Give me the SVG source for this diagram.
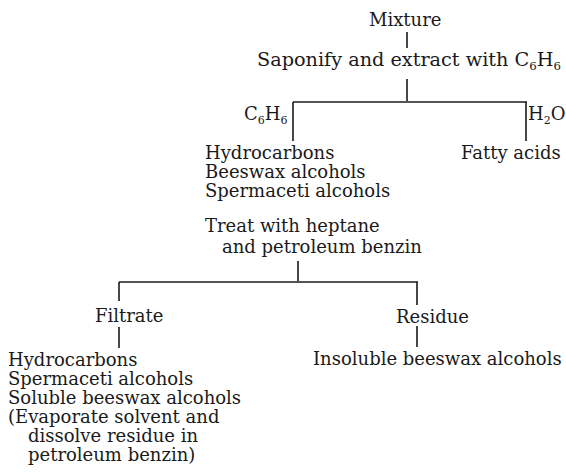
<svg xmlns="http://www.w3.org/2000/svg" width="566" height="476" viewBox="0 0 566 476">
<style>
text{font-family:"DejaVu Serif","Liberation Serif",serif;font-size:18px;fill:#1a1a1a}
.sub{font-size:11px}
.c line{stroke:#1a1a1a;stroke-width:1.6}
</style>
<rect width="566" height="476" fill="#fff"/>
<g class="c" id="connectors">
<line x1="407" y1="32" x2="407" y2="48"/>
<line x1="407" y1="79" x2="407" y2="101"/>
<line x1="293" y1="102" x2="527" y2="102"/>
<line x1="293" y1="102" x2="293" y2="141"/>
<line x1="526" y1="102" x2="526" y2="141"/>
<line x1="298" y1="261" x2="298" y2="281"/>
<line x1="119" y1="282" x2="418" y2="282"/>
<line x1="119" y1="282" x2="119" y2="301"/>
<line x1="119" y1="327" x2="119" y2="348"/>
<line x1="417" y1="282" x2="417" y2="305"/>
<line x1="417" y1="326" x2="417" y2="347"/>
</g>
<g id="mixture"><text x="369" y="26">Mixture</text></g>
<g id="saponify"><text x="257" y="66" textLength="304" lengthAdjust="spacingAndGlyphs">Saponify and extract with C<tspan class="sub" dy="4">6</tspan><tspan dy="-4">H</tspan><tspan class="sub" dy="4">6</tspan></text></g>
<g id="c6h6"><text x="244" y="120">C<tspan class="sub" dy="4">6</tspan><tspan dy="-4">H</tspan><tspan class="sub" dy="4">6</tspan></text></g>
<g id="h2o"><text x="528" y="120">H<tspan class="sub" dy="4">2</tspan><tspan dy="-4">O</tspan></text></g>
<g id="fatty"><text x="461" y="159">Fatty acids</text></g>
<g id="c6h6-fraction">
<text x="205" y="159">Hydrocarbons</text>
<text x="205" y="178">Beeswax alcohols</text>
<text x="205" y="197">Spermaceti alcohols</text>
<text x="205" y="232">Treat with heptane</text>
<text x="222" y="253">and petroleum benzin</text>
</g>
<g id="filtrate"><text x="95" y="322">Filtrate</text></g>
<g id="residue"><text x="396" y="323">Residue</text></g>
<g id="filtrate-contents">
<text x="8" y="366">Hydrocarbons</text>
<text x="8" y="385">Spermaceti alcohols</text>
<text x="8" y="404">Soluble beeswax alcohols</text>
<text x="8" y="423">(Evaporate solvent and</text>
<text x="28" y="442">dissolve residue in</text>
<text x="28" y="461">petroleum benzin)</text>
</g>
<g id="insoluble"><text x="313" y="365">Insoluble beeswax alcohols</text></g>
</svg>
